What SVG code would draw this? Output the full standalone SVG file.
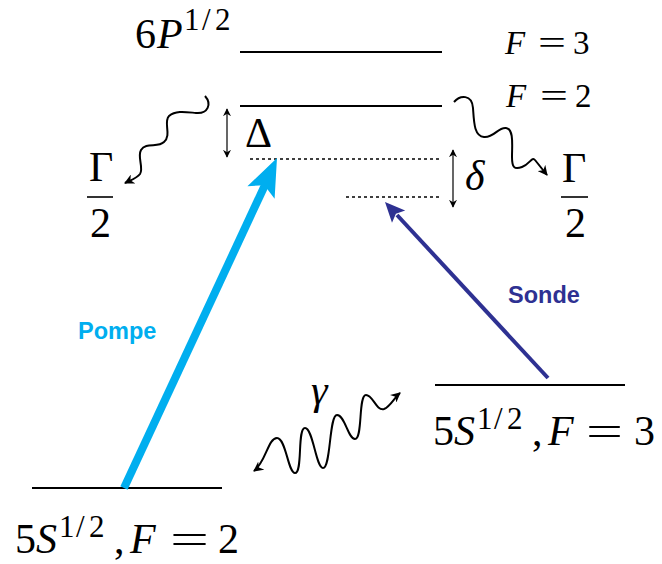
<svg xmlns="http://www.w3.org/2000/svg" width="662" height="564" viewBox="0 0 662 564">
<style>
.m{font-family:"Liberation Serif","Times New Roman",serif;fill:#000}
.i{font-style:italic}
.big{font-size:42px}
.sup{font-size:31px}
.mid{font-size:33px}
.lvl{stroke:#000;stroke-width:2;fill:none}
.dot{stroke:#000;stroke-width:1.6;stroke-dasharray:3 3;fill:none}
.wave{stroke:#000;stroke-width:2;fill:none;marker-end:url(#ah)}
.dbl{stroke:#000;stroke-width:1.2;fill:none;marker-start:url(#sh);marker-end:url(#sh)}
.lab{font-family:"Liberation Sans",Arial,sans-serif;font-weight:bold;font-size:23.5px}
</style>
<defs>
<marker id="ah" viewBox="0 0 10 10" refX="9" refY="5" markerWidth="10" markerHeight="10" markerUnits="userSpaceOnUse" orient="auto-start-reverse">
<path d="M0,0 L10,5 L0,10 L3,5 Z" fill="#000"/>
</marker>
<marker id="sh" viewBox="0 0 10 10" refX="9" refY="5" markerWidth="8" markerHeight="8" markerUnits="userSpaceOnUse" orient="auto-start-reverse">
<path d="M0,0 L10,5 L0,10 L3,5 Z" fill="#000"/>
</marker>
</defs>

<g id="level-6P-F3">
<line class="lvl" x1="240" y1="52" x2="442" y2="52"/>
<text class="m big" x="135" y="48">6</text>
<text class="m big i" x="157" y="48">P</text>
<text class="m sup" y="30"><tspan x="184">1</tspan><tspan x="202">/</tspan><tspan x="215">2</tspan></text>
<text class="m mid i" x="505" y="54">F</text>
<text class="m mid" x="538" y="54" textLength="28" lengthAdjust="spacingAndGlyphs">=</text>
<text class="m mid" x="573" y="54">3</text>
</g>

<g id="level-6P-F2">
<line class="lvl" x1="240" y1="106" x2="442" y2="106"/>
<text class="m mid i" x="506" y="107">F</text>
<text class="m mid" x="540" y="107" textLength="28" lengthAdjust="spacingAndGlyphs">=</text>
<text class="m mid" x="575" y="107">2</text>
</g>

<g id="virtual-levels">
<line class="dot" x1="250" y1="159" x2="442" y2="159"/>
<line class="dot" x1="346" y1="197" x2="442" y2="197"/>
</g>

<g id="delta">
<text class="m big" x="245" y="147">Δ</text>
</g>
<g id="small-delta">
<text class="m big i" x="465" y="190">δ</text>
</g>

<g id="gamma-left">
<text class="m big" x="89" y="181">Γ</text>
<line x1="87" y1="197" x2="113" y2="197" stroke="#000" stroke-width="1.6"/>
<text class="m big" x="90" y="237">2</text>
</g>
<g id="gamma-right">
<text class="m big" x="562" y="182">Γ</text>
<line x1="561" y1="197" x2="588" y2="197" stroke="#000" stroke-width="1.6"/>
<text class="m big" x="565" y="237">2</text>
</g>

<g id="level-5S-F3">
<line class="lvl" x1="435" y1="385" x2="625" y2="385"/>
<text class="m big" x="433" y="445">5</text>
<text class="m big i" x="454" y="445">S</text>
<text class="m sup" y="429"><tspan x="477">1</tspan><tspan x="494">/</tspan><tspan x="507">2</tspan></text>
<text class="m big" x="532" y="445">,</text>
<text class="m big i" x="548" y="445">F</text>
<text class="m big" x="586" y="445" textLength="37" lengthAdjust="spacingAndGlyphs">=</text>
<text class="m big" x="634" y="445">3</text>
</g>

<g id="level-5S-F2">
<line class="lvl" x1="32" y1="488" x2="222" y2="488"/>
<text class="m big" x="15" y="553">5</text>
<text class="m big i" x="36" y="553">S</text>
<text class="m sup" y="537"><tspan x="59">1</tspan><tspan x="76">/</tspan><tspan x="89">2</tspan></text>
<text class="m big" x="114" y="553">,</text>
<text class="m big i" x="130" y="553">F</text>
<text class="m big" x="170" y="553" textLength="39" lengthAdjust="spacingAndGlyphs">=</text>
<text class="m big" x="218" y="553">2</text>
</g>

<g id="photon-gamma">
<text class="m big i" x="311" y="404">γ</text>
</g>

<g id="labels">
<text class="lab" x="78" y="339" fill="#00AEEF">Pompe</text>
<text class="lab" x="508" y="303" fill="#2E3192">Sonde</text>
</g>

<g id="connectors">
<line class="dbl" x1="227" y1="109" x2="227" y2="157"/>
<line class="dbl" x1="453" y1="150" x2="453" y2="207"/>
<path class="wave" d="M205,96 C212,104 208,114 196,113 C186,112 176,110 169,116 C163,122 172,135 164,142 C158,148 146,142 141,150 C137,157 144,168 140,174 C137,178 131,180 125,183"/>
<path class="wave" d="M454,102 C460,95 472,94 473,108 C474,122 474,136 484,137 C494,138 498,127 506,128 C514,129 512,145 512,157 C512,167 514,170 522,167 C530,164 532,156 535,160 L547,175"/>
<path class="wave" style="marker-start:url(#ah)" d="M254,471 C266,462 268,438 277,438 C286,438 288,473 295,473 C303,473 297,428 305,428 C313,428 316,468 323,468 C331,468 329,415 337,415 C345,415 348,439 355,439 C363,439 358,395 366,395 C373,395 376,411 384,409 C390,407 394,398 400,393"/>
<line x1="124" y1="488" x2="265" y2="185" stroke="#00AEEF" stroke-width="8"/>
<polygon points="277,158 274.6,198.8 264.4,185.2 247.4,186.2" fill="#00AEEF"/>
<line x1="548" y1="378" x2="397" y2="215" stroke="#2E3192" stroke-width="4"/>
<polygon points="385,202 405.2,210.6 395.9,213.7 392,222.8" fill="#2E3192"/>
</g>
</svg>
